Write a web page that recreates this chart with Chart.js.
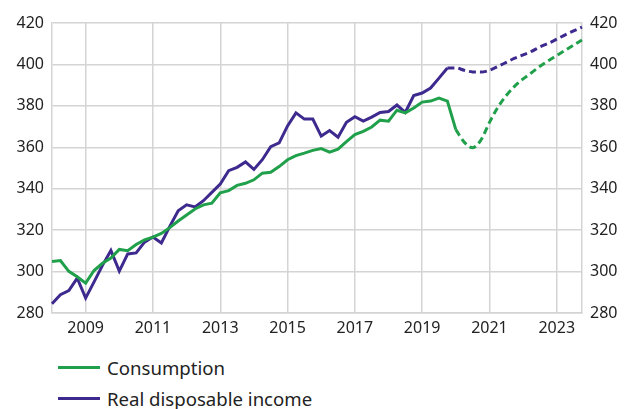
<!DOCTYPE html>
<html>
<head>
<meta charset="utf-8">
<script src="https://cdn.jsdelivr.net/npm/chart.js@4.4.0/dist/chart.umd.min.js"></script>
<style>
  html, body { margin: 0; padding: 0; background: #fff; }
  body { width: 634px; height: 409px; position: relative; overflow: hidden; font-family: 'Noto Sans', 'Open Sans', sans-serif; }
  #wrap { position: absolute; left: 0; top: 0; width: 634px; height: 340px; }
  #legend { position: absolute; left: 58px; top: 352px; color: #222; font-size: 18.6px; }
  .lg-item { display: flex; align-items: center; height: 31px; }
  .lg-line { width: 42px; height: 3px; margin-right: 7px; }
</style>
</head>
<body>
<div id="wrap"><canvas id="chart" width="634" height="340"></canvas></div>
<div id="legend"></div>
<script>
/* ── Consumption vs real disposable income, quarterly, with projections ── */

const years = [2008, 2009, 2010, 2011, 2012, 2013, 2014, 2015, 2016, 2017, 2018, 2019, 2020, 2021, 2022, 2023];
const tickYears = ['2009', '2011', '2013', '2015', '2017', '2019', '2021', '2023'];
const yTicks = [280, 300, 320, 340, 360, 380, 400, 420];

const consumption = [
  304.9, 305.3, 300.1, 297.5, 294.4, 300.5, 304.0, 306.5,
  310.7, 310.1, 313.1, 315.3, 316.6, 318.4, 321.2, 324.4,
  327.3, 330.2, 332.2, 333.0, 338.0, 339.1, 341.6, 342.6,
  344.3, 347.5, 347.9, 350.7, 354.0, 356.0, 357.2, 358.5,
  359.4, 357.7, 359.1, 362.7, 366.1, 367.7, 369.8, 373.1,
  372.6, 377.9, 376.6, 379.0, 381.8, 382.3, 383.7, 382.3,
  368.5, 362.5, 359.8, 363.6, 372.0, 379.3, 385.0, 389.5,
  393.0, 396.0, 399.1, 401.8, 404.3, 406.8, 409.3, 411.8
];
const income = [
  284.5, 288.8, 290.8, 296.8, 287.2, 295.0, 303.0, 310.2,
  300.2, 308.5, 309.0, 314.2, 316.7, 313.8, 321.8, 329.4,
  332.2, 331.2, 334.2, 338.2, 342.3, 348.7, 350.3, 352.9,
  349.3, 354.0, 360.3, 362.1, 370.3, 376.6, 373.6, 373.6,
  365.4, 368.1, 364.9, 372.1, 374.8, 372.6, 374.6, 376.8,
  377.3, 380.4, 376.9, 385.0, 386.2, 388.6, 393.4, 398.3,
  398.3, 397.2, 396.4, 396.3, 397.2, 399.0, 401.0, 403.0,
  404.6, 406.3, 408.5, 410.2, 412.2, 414.3, 416.2, 418.0
];
// index of last actual (non-projected) quarter
const lastActualConsumption = 48;
const lastActualIncome = 47;

const GREEN = '#20a04a';
const PURPLE = '#3e2a8e';
const GRID = '#d4d4d4';

const quarters = [];
years.forEach(y => { for (let q = 1; q <= 4; q++) quarters.push(y + 'Q' + q); });

const actualPart = (arr, last) => arr.map((v, i) => i <= last ? v : null);
const forecastPart = (arr, last) => arr.map((v, i) => i >= last ? v : null);

function labelAt(i) {
  const lbl = quarters[i];
  if (!lbl || !lbl.endsWith('Q1')) return '';
  const y = lbl.slice(0, 4);
  return tickYears.includes(y) ? y : '';
}

const lineBase = { borderWidth: 3, pointRadius: 0, pointHoverRadius: 0, fill: false, spanGaps: false };

const datasets = [
  { ...lineBase, label: 'Consumption', data: actualPart(consumption, lastActualConsumption), borderColor: GREEN, tension: 0 },
  { ...lineBase, label: 'Real disposable income', data: actualPart(income, lastActualIncome), borderColor: PURPLE, tension: 0 },
  { ...lineBase, label: '_cf', data: forecastPart(consumption, lastActualConsumption), borderColor: GREEN, borderDash: [7, 4], cubicInterpolationMode: 'monotone' },
  { ...lineBase, label: '_if', data: forecastPart(income, lastActualIncome), borderColor: PURPLE, borderDash: [7, 4], cubicInterpolationMode: 'monotone' },
];

const tickFont = { family: "'Noto Sans', 'Open Sans', sans-serif", size: 16 };

const yAxis = (position) => ({
  position,
  min: 280, max: 420,
  afterBuildTicks: axis => { axis.ticks = yTicks.map(v => ({ value: v })); },
  grid: { display: position === 'left', color: GRID, lineWidth: 1.5, drawTicks: false },
  border: { display: true, color: GRID, width: 1.5 },
  ticks: { color: '#222', font: tickFont, padding: 8 },
  afterFit: axis => { axis.width = 52; }
});

new Chart(document.getElementById('chart'), {
  type: 'line',
  data: { labels: quarters, datasets },
  options: {
    responsive: false,
    animation: false,
    layout: { padding: { top: 23, bottom: 0, left: 0, right: 0 } },
    plugins: { legend: { display: false }, tooltip: { enabled: false } },
    scales: {
      x: {
        offset: false,
        grid: {
          color: ctx => labelAt(ctx.index) ? GRID : 'rgba(0,0,0,0)',
          lineWidth: 1.5,
          drawTicks: false
        },
        border: { display: true, color: GRID, width: 1.5 },
        ticks: {
          autoSkip: false, maxRotation: 0, minRotation: 0,
          color: '#222', font: tickFont, padding: 6,
          callback: (v, i) => labelAt(i)
        },
        afterFit: axis => { axis.height = 27; }
      },
      y: yAxis('left'),
      y2: yAxis('right')
    }
  }
});

// legend: stacked rows under the chart
document.getElementById('legend').innerHTML = datasets.slice(0, 2).map(d => `
  <div class="lg-item"><span class="lg-line" style="background:${d.borderColor}"></span>${d.label}</div>
`).join('');
</script>
</body>
</html>
